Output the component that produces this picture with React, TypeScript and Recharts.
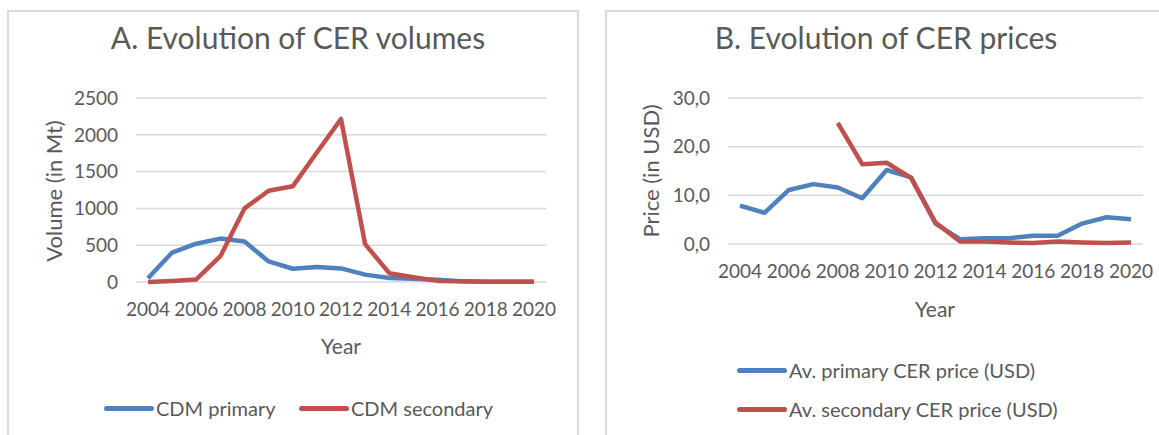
import React from "react";
import { LineChart, Line, XAxis, YAxis, CartesianGrid } from "recharts";

const years = ["2004", "2005", "2006", "2007", "2008", "2009", "2010", "2011", "2012", "2013", "2014", "2015", "2016", "2017", "2018", "2019", "2020"];

// panel A: volumes in Mt
const cdmPrimary = [50, 400, 520, 590, 550, 280, 180, 205, 185, 100, 55, 45, 30, 10, 5, 5, 5];
const cdmSecondary = [0, 15, 35, 350, 1000, 1240, 1300, 1760, 2215, 515, 120, 65, 15, 10, 5, 5, 3];
const volumeTicks = [0, 500, 1000, 1500, 2000, 2500];

// panel B: prices in USD
const pricePrimary = [7.9, 6.4, 11.1, 12.3, 11.6, 9.4, 15.2, 13.7, 4.2, 1.0, 1.2, 1.2, 1.7, 1.7, 4.2, 5.5, 5.1];
const priceSecondary = [null, null, null, null, 24.9, 16.4, 16.7, 13.6, 4.4, 0.5, 0.5, 0.3, 0.2, 0.5, 0.3, 0.2, 0.3];
const priceTicks = [0, 10, 20, 30];

const BLUE = "#4f81bd";
const RED = "#c0504d";
const TEXT = "#595959";
const GRID = "#d9d9d9";
const FONT = "Lato, 'Noto Sans', sans-serif";

const volData = years.map((y, i) => ({ year: y, primary: cdmPrimary[i], secondary: cdmSecondary[i] }));
const priceData = years.map((y, i) => ({ year: y, primary: pricePrimary[i], secondary: priceSecondary[i] }));

const tickStyle = { fill: TEXT, fontSize: 19, fontFamily: FONT };

const Txt = ({ x, y, size, children, rotate }: any) => (
  <div
    style={{
      position: "absolute",
      left: x,
      top: y,
      transform: `translate(-50%, -50%)${rotate ? " rotate(-90deg)" : ""}`,
      fontSize: size,
      lineHeight: 1,
      whiteSpace: "nowrap",
      color: TEXT,
    }}
  >
    {children}
  </div>
);

const LegendItem = ({ x, y, color, label }: any) => (
  <div style={{ position: "absolute", left: x, top: y - 12, height: 24, display: "flex", alignItems: "center", whiteSpace: "nowrap" }}>
    <div style={{ width: 50, height: 5, borderRadius: 3, background: color, marginRight: 2 }} />
    <span style={{ fontSize: 20, color: TEXT, lineHeight: 1 }}>{label}</span>
  </div>
);

export default function App() {
  return (
    <div style={{ position: "absolute", left: 0, top: 0, width: 1159, height: 435, overflow: "hidden", background: "#fff", fontFamily: FONT }}>
      <div style={{ position: "absolute", left: 7, top: 10, width: 568, height: 440, border: `2px solid ${GRID}` }} />
      <div style={{ position: "absolute", left: 605, top: 10, width: 600, height: 440, border: `2px solid ${GRID}` }} />

      <div style={{ position: "absolute", left: 0, top: 0 }}>
        <LineChart width={578} height={435} data={volData} margin={{ top: 98, right: 32, bottom: 93, left: 76 }}>
          <CartesianGrid vertical={false} stroke={GRID} strokeWidth={1.5} />
          <XAxis dataKey="year" interval={1} axisLine={false} tickLine={false} tickSize={0} tickMargin={21} height={60} padding={{ left: 12, right: 12 }} tick={tickStyle} />
          <YAxis domain={[0, 2500]} ticks={volumeTicks} axisLine={false} tickLine={false} tickSize={0} tickMargin={18} width={60} tick={tickStyle} />
          <Line dataKey="primary" stroke={BLUE} strokeWidth={4.5} dot={false} isAnimationActive={false} strokeLinejoin="round" />
          <Line dataKey="secondary" stroke={RED} strokeWidth={4.5} dot={false} isAnimationActive={false} strokeLinejoin="round" />
        </LineChart>
      </div>

      <div style={{ position: "absolute", left: 590, top: 0 }}>
        <LineChart width={569} height={435} data={priceData} margin={{ top: 98, right: 16, bottom: 131, left: 78 }}>
          <CartesianGrid vertical={false} stroke={GRID} strokeWidth={1.5} />
          <XAxis dataKey="year" interval={1} axisLine={false} tickLine={false} tickSize={0} tickMargin={21} height={60} padding={{ left: 12, right: 12 }} tick={tickStyle} />
          <YAxis
            domain={[0, 30]}
            ticks={priceTicks}
            axisLine={false}
            tickLine={false}
            tickSize={0}
            tickMargin={18}
            width={60}
            tick={tickStyle}
            tickFormatter={(v: number) => v.toFixed(1).replace(".", ",")}
          />
          <Line dataKey="primary" stroke={BLUE} strokeWidth={4.5} dot={false} isAnimationActive={false} strokeLinejoin="round" />
          <Line dataKey="secondary" stroke={RED} strokeWidth={4.5} dot={false} isAnimationActive={false} strokeLinejoin="round" connectNulls={false} />
        </LineChart>
      </div>

      <Txt x={298} y={37} size={30}>A. Evolution of CER volumes</Txt>
      <Txt x={54} y={191} size={22} rotate>Volume (in Mt)</Txt>
      <Txt x={341} y={345} size={21}>Year</Txt>
      <LegendItem x={104} y={408} color={BLUE} label="CDM primary" />
      <LegendItem x={299} y={408} color={RED} label="CDM secondary" />

      <Txt x={886} y={37} size={30}>B. Evolution of CER prices</Txt>
      <Txt x={651} y={171} size={22} rotate>Price (in USD)</Txt>
      <Txt x={935} y={308} size={21}>Year</Txt>
      <LegendItem x={737} y={370} color={BLUE} label="Av. primary CER price (USD)" />
      <LegendItem x={737} y={409} color={RED} label="Av. secondary CER price (USD)" />
    </div>
  );
}
